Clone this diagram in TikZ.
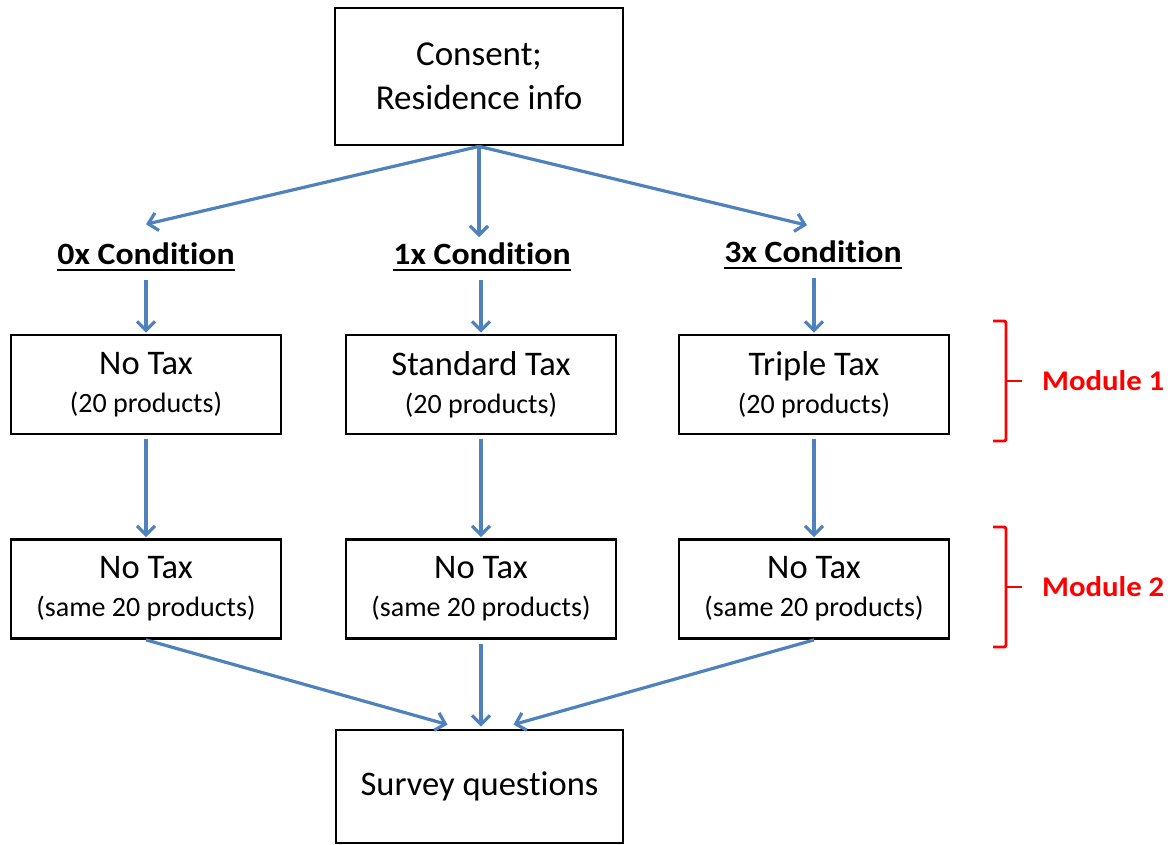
\documentclass[tikz,border=0pt]{standalone}
\usepackage{fontspec}
\setmainfont{Carlito}[Ligatures=NoCommon]
\newfontfamily\condfont{Carlito}[Ligatures=NoCommon,FakeStretch=1.09]
\newfontfamily\modfont{Carlito}[Ligatures=NoCommon,FakeStretch=1.08]
\usepackage{xcolor}
\usepackage{tikz}
\usetikzlibrary{arrows.meta,positioning,calc}
\definecolor{flowblue}{RGB}{79,129,189}
\definecolor{modred}{RGB}{255,0,0}
\newcommand{\subline}[1]{{\fontsize{28}{30}\selectfont #1}}

\begin{document}
\begin{tikzpicture}[x=1pt,y=-1pt,
    box/.style={draw,line width=2.8pt,align=center,inner sep=0pt,
                minimum width=270pt,minimum height=99pt,
                font=\fontsize{34.5}{37}\selectfont},
    cond/.style={inner sep=0pt,outer sep=0pt,anchor=base,
                 font=\condfont\bfseries\fontsize{31}{33}\selectfont},
    flow/.style={draw=flowblue,line width=3.2pt,
                 -{Straight Barb[length=9pt,width=18pt]}},
    brk/.style={draw=modred,line width=2.8pt,rounded corners=2pt}]
    \useasboundingbox (0,0) rectangle (1175,845);

    % Start box
    \node[box,minimum width=288pt,minimum height=137pt,
          font=\fontsize{35}{44}\selectfont] (consent) at (479,76.5)
          {Consent;\\Residence info};

    % Conditions
    \node[cond] (c0) at (146,264) {0x Condition};
    \node[cond] (c1) at (482,264) {1x Condition};
    \node[cond] (c3) at (813,262) {3x Condition};
    \foreach \c in {c0,c1,c3}
        \draw[line width=2pt] ([yshift=-6pt]\c.base west) -- ([yshift=-6pt]\c.base east);

    % Module 1
    \node[box] (m1a) at (146,384.5) {No Tax\\[1pt]\subline{(20 products)}};
    \node[box] (m1b) at (481,384.5) {Standard Tax\\[1pt]\subline{(20 products)}};
    \node[box] (m1c) at (814,384.5) {Triple Tax\\[1pt]\subline{(20 products)}};

    % Module 2
    \node[box] (m2a) at (146,589) {No Tax\\[1pt]\subline{(same 20 products)}};
    \node[box] (m2b) at (481,589) {No Tax\\[1pt]\subline{(same 20 products)}};
    \node[box] (m2c) at (814,589) {No Tax\\[1pt]\subline{(same 20 products)}};

    % End box
    \node[box,minimum width=287pt,minimum height=113pt,
          font=\fontsize{34.5}{36}\selectfont] (survey) at (479.5,786.5)
          {Survey questions};

    % Arrows from the start box
    \draw[flow] (consent.south) -- ([yshift=18pt]c0.north);
    \draw[flow] (consent.south) -- ($(consent.south |- c1.north)+(0,-5)$);
    \draw[flow] (consent.south) -- ([xshift=-6pt,yshift=15pt]c3.north);

    % Arrows down the columns
    \foreach \c/\a/\b in {c0/m1a/m2a, c1/m1b/m2b, c3/m1c/m2c} {
        \draw[flow,shorten >=1pt] ([yshift=-16pt]\c.base -| \a.north) -- (\a.north);
        \draw[flow,shorten <=4pt,shorten >=1pt] (\a.south) -- (\b.north);
    }

    % Arrows into the end box
    \draw[flow] (m2a.south) -- ([xshift=-32pt,yshift=4pt]survey.north);
    \draw[flow,shorten <=4pt,shorten >=2pt] (m2b.south) -- (m2b.south |- survey.north);
    \draw[flow] (m2c.south) -- ([xshift=34pt,yshift=4pt]survey.north);

    % Module brackets
    \foreach \ytop/\ybot/\num in {321/441/1, 527/647/2} {
        \draw[brk] (993,\ytop) -- (1006,\ytop) -- (1006,\ybot) -- (993,\ybot);
        \draw[brk] (1006,{(\ytop+\ybot)/2}) -- (1022,{(\ytop+\ybot)/2});
        \node[anchor=west,inner sep=0pt,text=modred,
              font=\modfont\bfseries\fontsize{28.5}{30}\selectfont] (mod\num)
              at (1042,{(\ytop+\ybot)/2}) {Module \num};
    }
\end{tikzpicture}
\end{document}
